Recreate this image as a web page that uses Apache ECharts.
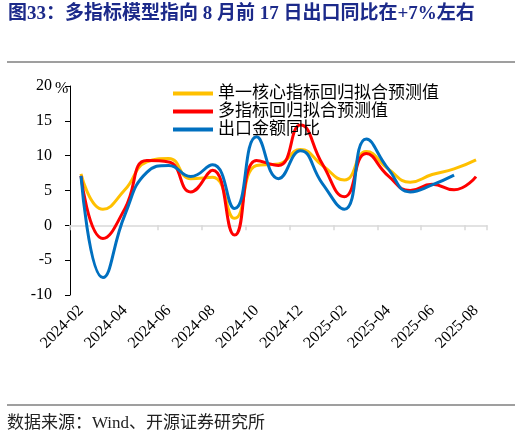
<!DOCTYPE html>
<html>
<head>
<meta charset="utf-8">
<script src="https://cdn.jsdelivr.net/npm/echarts@6/dist/echarts.min.js"></script>
<style>
  html, body { margin: 0; padding: 0; background: #fff; }
  #chart-container { width: 522px; height: 437px; }
</style>
</head>
<body>
<div id="chart-container"></div>
<script>
var dom = document.getElementById('chart-container');
var myChart = echarts.init(dom, null, { renderer: 'canvas' });

var months = ['2024-02', '2024-03', '2024-04', '2024-05', '2024-06', '2024-07', '2024-08', '2024-09',
  '2024-10', '2024-11', '2024-12', '2025-01', '2025-02', '2025-03', '2025-04', '2025-05',
  '2025-06', '2025-07', '2025-08'];

// 单一核心指标回归拟合预测值
var singleFit = [7.4, 2.3, 5.1, 9.1, 9.6, 6.7, 6.9, 1.0, 8.6, 8.8, 10.9, 8.6, 6.5, 10.6, 8.1, 6.2, 7.3, 8.1, 9.4];
// 多指标回归拟合预测值
var multiFit = [7.1, -1.9, 2.4, 9.3, 9.1, 4.8, 7.9, -1.4, 9.3, 8.6, 14.4, 8.8, 4.1, 10.3, 7.1, 5.0, 5.9, 5.1, 7.0];
// 出口金额同比
var exportYoy = [7.1, -7.5, 1.5, 7.6, 8.6, 7.0, 8.7, 2.4, 12.7, 6.7, 10.7, 6.0, 2.3, 12.4, 8.1, 4.8, 5.8, 7.2, null];

var serifCjk = "'Liberation Serif', 'Noto Sans CJK SC', serif";

var option = {
  animation: false,
  backgroundColor: '#fff',
  color: ['#FFC000', '#FF0000', '#0070C0'],
  grid: { left: 70, right: 35, top: 86, bottom: 142, containLabel: false },
  legend: {
    orient: 'vertical',
    left: 168,
    top: 80,
    itemWidth: 40,
    itemHeight: 4,
    itemGap: 1,
    icon: 'rect',
    textStyle: { fontFamily: serifCjk, fontSize: 17, color: '#000' },
    data: ['单一核心指标回归拟合预测值', '多指标回归拟合预测值', '出口金额同比']
  },
  xAxis: [
    {
      type: 'category',
      data: months,
      boundaryGap: true,
      axisLine: { onZero: true, lineStyle: { color: '#d9d9d9', width: 1.5 } },
      axisTick: { show: true, interval: 1, length: 5, lineStyle: { color: '#d9d9d9', width: 1.5 } },
      axisLabel: { show: false },
      splitLine: { show: false },
      z: 1
    },
    {
      type: 'category',
      data: months,
      position: 'bottom',
      boundaryGap: true,
      axisLine: { show: false, onZero: false },
      axisTick: { show: false },
      axisLabel: {
        interval: 1,
        rotate: 45,
        margin: 13,
        fontFamily: 'Liberation Serif',
        fontSize: 16,
        color: '#000'
      },
      splitLine: { show: false }
    }
  ],
  yAxis: {
    type: 'value',
    min: -10,
    max: 20,
    interval: 5,
    axisLine: { show: true, lineStyle: { color: '#000', width: 1 } },
    axisTick: { show: true, length: 5, lineStyle: { color: '#000' } },
    axisLabel: { margin: 18, fontFamily: 'Liberation Serif', fontSize: 16, color: '#000' },
    splitLine: { show: false }
  },
  series: [
    {
      name: '单一核心指标回归拟合预测值',
      type: 'line',
      data: singleFit,
      smooth: true,
      showSymbol: false,
      lineStyle: { width: 3 }
    },
    {
      name: '多指标回归拟合预测值',
      type: 'line',
      data: multiFit,
      smooth: true,
      showSymbol: false,
      lineStyle: { width: 3 }
    },
    {
      name: '出口金额同比',
      type: 'line',
      data: exportYoy,
      smooth: true,
      showSymbol: false,
      lineStyle: { width: 3 }
    }
  ],
  graphic: [
    {
      type: 'text',
      left: 8,
      top: 5,
      style: {
        text: '图33：多指标模型指向 8 月前 17 日出口同比在+7%左右',
        font: "bold 19px " + serifCjk,
        fill: '#1C2A8A'
      }
    },
    {
      type: 'line',
      shape: { x1: 7, y1: 62, x2: 515, y2: 62 },
      style: { stroke: '#7f7f7f', lineWidth: 1.5 }
    },
    {
      type: 'text',
      left: 55,
      top: 81,
      style: { text: '%', font: "16px 'Liberation Serif'", fill: '#000' }
    },
    {
      type: 'line',
      shape: { x1: 7, y1: 405, x2: 515, y2: 405 },
      style: { stroke: '#7f7f7f', lineWidth: 1.5 }
    },
    {
      type: 'text',
      left: 7,
      top: 415,
      style: {
        text: '数据来源：Wind、开源证券研究所',
        font: "17px " + serifCjk,
        fill: '#222'
      }
    }
  ]
};

myChart.setOption(option);
window.addEventListener('resize', myChart.resize);
</script>
</body>
</html>
